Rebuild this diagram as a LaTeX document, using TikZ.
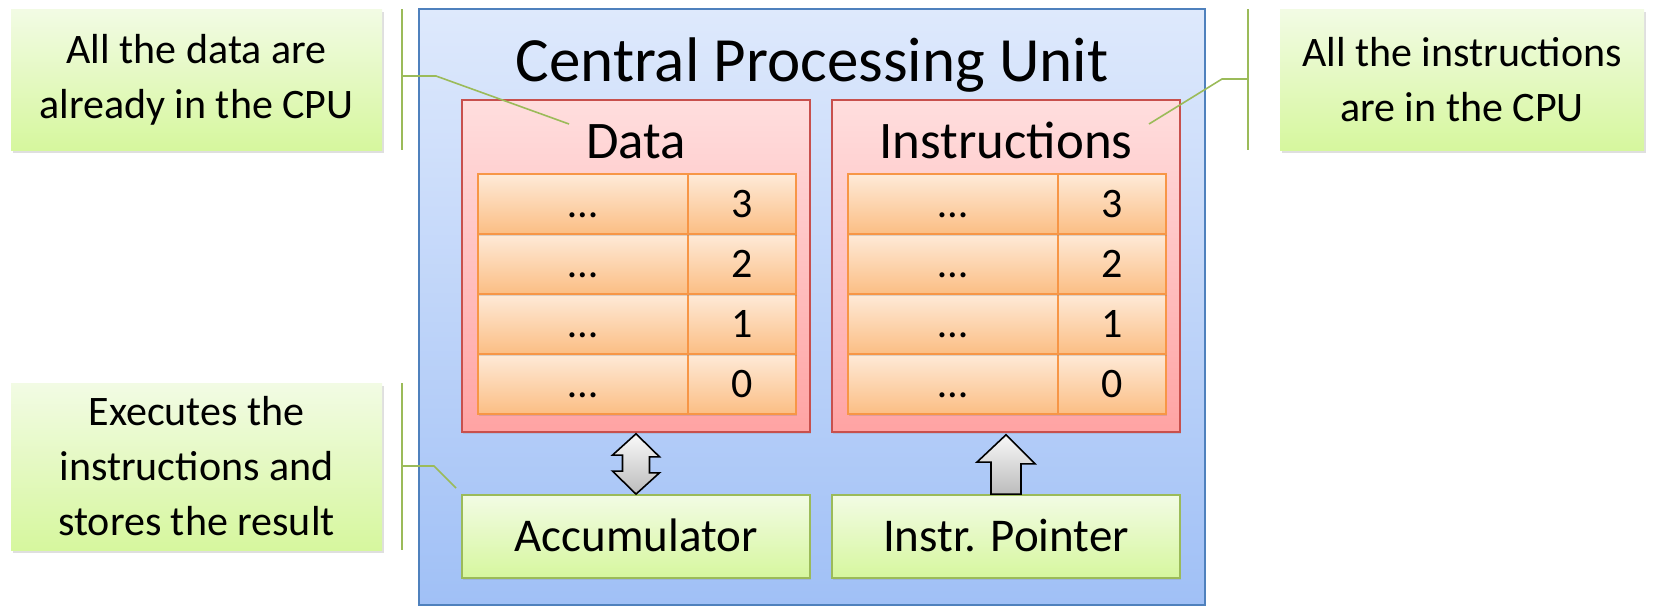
\documentclass[tikz,border=0pt]{standalone}
\usepackage{fontspec}
\setmainfont{Carlito}
\usetikzlibrary{shadows,calc}
\definecolor{cpuTop}{RGB}{222,233,252}
\definecolor{cpuBot}{RGB}{160,192,246}
\definecolor{cpuLine}{RGB}{79,129,189}
\definecolor{redTop}{RGB}{255,222,222}
\definecolor{redBot}{RGB}{255,163,163}
\definecolor{redLine}{RGB}{200,80,77}
\definecolor{cellTop}{RGB}{254,234,216}
\definecolor{cellBot}{RGB}{251,190,132}
\definecolor{cellLine}{RGB}{247,150,70}
\definecolor{grnTop}{RGB}{242,251,228}
\definecolor{grnBot}{RGB}{214,247,158}
\definecolor{grnLine}{RGB}{155,187,89}
\definecolor{arrTop}{RGB}{250,250,250}
\definecolor{arrBot}{RGB}{188,188,188}
\begin{document}
\begin{tikzpicture}[x=0.5pt,y=-0.5pt,
  callout/.style={draw=none, top color=grnTop, bottom color=grnBot, align=center,
    font=\fontsize{21}{27.5}\selectfont, inner sep=0pt,
    drop shadow={shadow xshift=1pt,shadow yshift=-1.5pt,opacity=0.25}},
  cpubox/.style={draw=cpuLine, line width=0.8pt, top color=cpuTop, bottom color=cpuBot,
    minimum width=393pt, minimum height=298pt, inner sep=0pt},
  memory/.style={draw=redLine, line width=0.8pt, top color=redTop, bottom color=redBot,
    minimum width=174pt, minimum height=166pt, inner sep=0pt,
    drop shadow={shadow xshift=0.6pt,shadow yshift=-1pt,opacity=0.2}},
  cell/.style={draw=cellLine, line width=0.9pt, top color=cellTop, bottom color=cellBot,
    minimum height=30pt, inner sep=0pt, text height=13pt, text depth=0pt,
    font=\fontsize{21}{25}\selectfont,
    drop shadow={shadow xshift=0.6pt,shadow yshift=-1.2pt,opacity=0.25}},
  register/.style={draw=grnLine, line width=0.9pt, top color=grnTop, bottom color=grnBot,
    minimum width=174pt, minimum height=41.5pt, inner sep=0pt,
    text height=15pt, text depth=0pt, font=\fontsize{23.5}{28}\selectfont,
    drop shadow={shadow xshift=0.6pt,shadow yshift=-1pt,opacity=0.2}},
  bracket/.style={draw=grnLine, line width=0.8pt},
  blockarrow/.style={draw=black, line width=0.8pt, top color=arrTop, bottom color=arrBot, line join=miter}
]
\useasboundingbox (0,0) rectangle (1656,606);

% callouts
\node[callout, minimum width=185.5pt, minimum height=70.5pt] (lt) at (196.5,79.5)
  {All the data are\\already in the CPU};
\node[callout, minimum width=182pt, minimum height=70.5pt] (rt) at (1462,79.5)
  {All the instructions\\are in the CPU};
\node[callout, minimum width=185.5pt, minimum height=83.5pt] (lb) at (196.5,466.5)
  {Executes the\\instructions and\\stores the result};

% CPU
\node[cpubox] (cpu) at (812,307) {};
\node[font=\fontsize{31.5}{36}\selectfont, anchor=base] (title) at (812,81) {Central Processing Unit};

% memories
\node[memory] (data) at (636,266) {};
\node[memory] (instr) at (1006,266) {};
\node[font=\fontsize{26.4}{30}\selectfont, anchor=base] (datalbl) at (636,158) {Data};
\node[font=\fontsize{26.4}{30}\selectfont, anchor=base] (instrlbl) at (1006,158) {Instructions};

\foreach \i/\lab in {3/0,2/1,1/2,0/3}{
  \node[cell, minimum width=105pt] (dv\i) at (583,{204+60*\i}) {…};
  \node[cell, minimum width=54pt] (dn\i) at (742,{204+60*\i}) {\lab};
  \node[cell, minimum width=105pt] (iv\i) at (953,{204+60*\i}) {…};
  \node[cell, minimum width=54pt] (in\i) at (1112,{204+60*\i}) {\lab};
}

% registers
\node[register] (acc) at (636,536.5) {Accumulator};
\node[register] (ip) at (1006,536.5) {Instr. Pointer};

% block arrows
\draw[blockarrow] (data.south) ++(0,1)
  -- ++(23.5,23) -- ++(-10,0) -- ++(0,16) -- ++(10,0)
  -- ($(acc.north)+(0,0)$) -- ++(-23.5,-23) -- ++(10,0) -- ++(0,-16) -- ++(-10,0) -- cycle;
\draw[blockarrow] (instr.south) ++(0,2)
  -- ++(29,29) -- ++(-14,0) -- (ip.north -| {1021,0}) -- ++(-30,0) -- ++(0,-32) -- ++(-14,0) -- cycle;

% brackets and leaders
\coordinate (ltb1) at (402,9);
\coordinate (ltb2) at (402,150);
\coordinate (ltk) at (402,76);
\draw[bracket] (ltb1) -- (ltb2);
\draw[bracket] (ltk) -- (436,76) -- (569,124);

\coordinate (rtb1) at (1248,9);
\coordinate (rtb2) at (1248,150);
\coordinate (rtk) at (1248,79);
\draw[bracket] (rtb1) -- (rtb2);
\draw[bracket] (rtk) -- (1222,79) -- (1149,124);

\coordinate (lbb1) at (402,383);
\coordinate (lbb2) at (402,550);
\coordinate (lbk) at (402,466);
\draw[bracket] (lbb1) -- (lbb2);
\draw[bracket] (lbk) -- (434,466) -- (456,488);
\end{tikzpicture}
\end{document}
